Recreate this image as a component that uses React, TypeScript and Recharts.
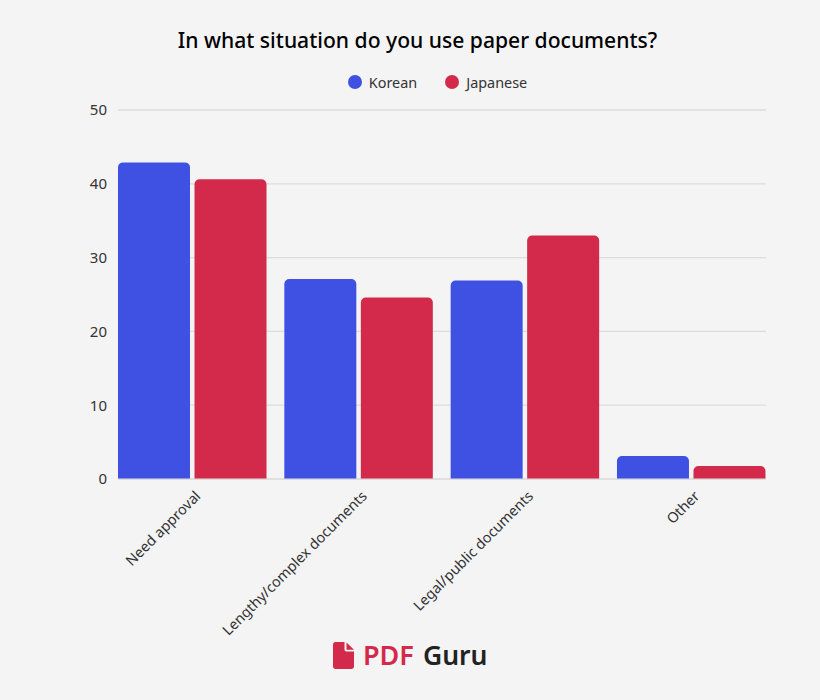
import { Bar, BarChart, CartesianGrid, Legend, XAxis, YAxis } from "recharts";

const categories = [
  "Need approval",
  "Lengthy/complex documents",
  "Legal/public documents",
  "Other"
];
const korean = [42.9, 27.1, 26.9, 3.1];
const japanese = [40.6, 24.6, 33.0, 1.75];
const yTicks = [0, 10, 20, 30, 40, 50];
const legendItems = ["Korean", "Japanese"];

const chartData = categories.map((name, index) => ({
  name,
  Korean: korean[index],
  Japanese: japanese[index]
}));

const FONT = '"Noto Sans", sans-serif';
const BLUE = "#3f51e3";
const RED = "#d32a4c";
const TEXT = "#333333";
const legendColors: Record<string, string> = { Korean: BLUE, Japanese: RED };

function AngledTick({ x, y, payload }: any) {
  return (
    <text
      x={x + 9}
      y={y + 10}
      transform={`rotate(-45 ${x + 9} ${y + 10})`}
      textAnchor="end"
      fontFamily={FONT}
      fontSize={14.4}
      fill={TEXT}
    >
      {payload.value}
    </text>
  );
}

function ChartLegend() {
  return (
    <div
      style={{
        display: "flex",
        justifyContent: "center",
        alignItems: "center",
        height: 22,
        fontFamily: FONT,
        fontSize: 14.4,
        color: TEXT
      }}
    >
      {legendItems.map((item, index) => (
        <div
          key={item}
          style={{
            display: "flex",
            alignItems: "center",
            marginRight: index === 0 ? 28 : 0
          }}
        >
          <svg width={14} height={14} style={{ marginRight: 7 }}>
            <circle cx={7} cy={7} r={7} fill={legendColors[item]} />
          </svg>
          {item}
        </div>
      ))}
    </div>
  );
}

function Logo() {
  return (
    <div
      style={{
        position: "absolute",
        left: 333,
        top: 638,
        display: "flex",
        alignItems: "center",
        height: 34,
        fontFamily: FONT,
        fontSize: 27,
        lineHeight: "34px"
      }}
    >
      <svg width={21} height={27} viewBox="0 0 21 27" style={{ marginRight: 9 }}>
        <path
          d="M2.5 0H11.5V7.5C11.5 8.6 12.4 9.5 13.5 9.5H21V24.5C21 25.9 19.9 27 18.5 27H2.5C1.1 27 0 25.9 0 24.5V2.5C0 1.1 1.1 0 2.5 0Z"
          fill={RED}
        />
        <path d="M13.5 0.5L21 7.7H13.5Z" fill={RED} />
      </svg>
      <span style={{ color: RED, fontWeight: 600, marginRight: 9 }}>PDF</span>
      <span style={{ color: "#222222", fontWeight: 600, fontSize: 26.5 }}>Guru</span>
    </div>
  );
}

export default function App() {
  return (
    <div
      style={{
        position: "absolute",
        left: 0,
        top: 0,
        width: 820,
        height: 700,
        background: "#f4f4f4",
        overflow: "hidden"
      }}
    >
      <div
        style={{
          position: "absolute",
          left: 0,
          width: 835,
          top: 25,
          textAlign: "center",
          fontFamily: FONT,
          fontSize: 21.1,
          fontWeight: 500,
          lineHeight: "30px",
          color: "#000000"
        }}
      >
        In what situation do you use paper documents?
      </div>
      <BarChart
        width={820}
        height={700}
        data={chartData}
        margin={{ top: 88, right: 54, bottom: 181, left: 84 }}
        barCategoryGap={8.65}
        barGap={4.5}
      >
        <CartesianGrid stroke="#dcdcdc" strokeWidth={1.3} vertical={false} />
        <XAxis
          dataKey="name"
          interval={0}
          height={40}
          padding={{ left: -8.65, right: -8.65 }}
          tick={<AngledTick />}
          tickLine={false}
          axisLine={{ stroke: "#dcdcdc" }}
        />
        <YAxis
          domain={[0, 50]}
          ticks={yTicks}
          width={34}
          tickLine={false}
          tickMargin={5}
          axisLine={false}
          tick={{ fill: TEXT, fontSize: 15, fontFamily: FONT }}
        />
        <Legend
          verticalAlign="top"
          align="center"
          content={<ChartLegend />}
          wrapperStyle={{ top: 71, left: 0, width: 875 }}
        />
        <Bar dataKey="Korean" fill={BLUE} radius={[5, 5, 0, 0]} isAnimationActive={false} />
        <Bar dataKey="Japanese" fill={RED} radius={[5, 5, 0, 0]} isAnimationActive={false} />
      </BarChart>
      <Logo />
    </div>
  );
}
